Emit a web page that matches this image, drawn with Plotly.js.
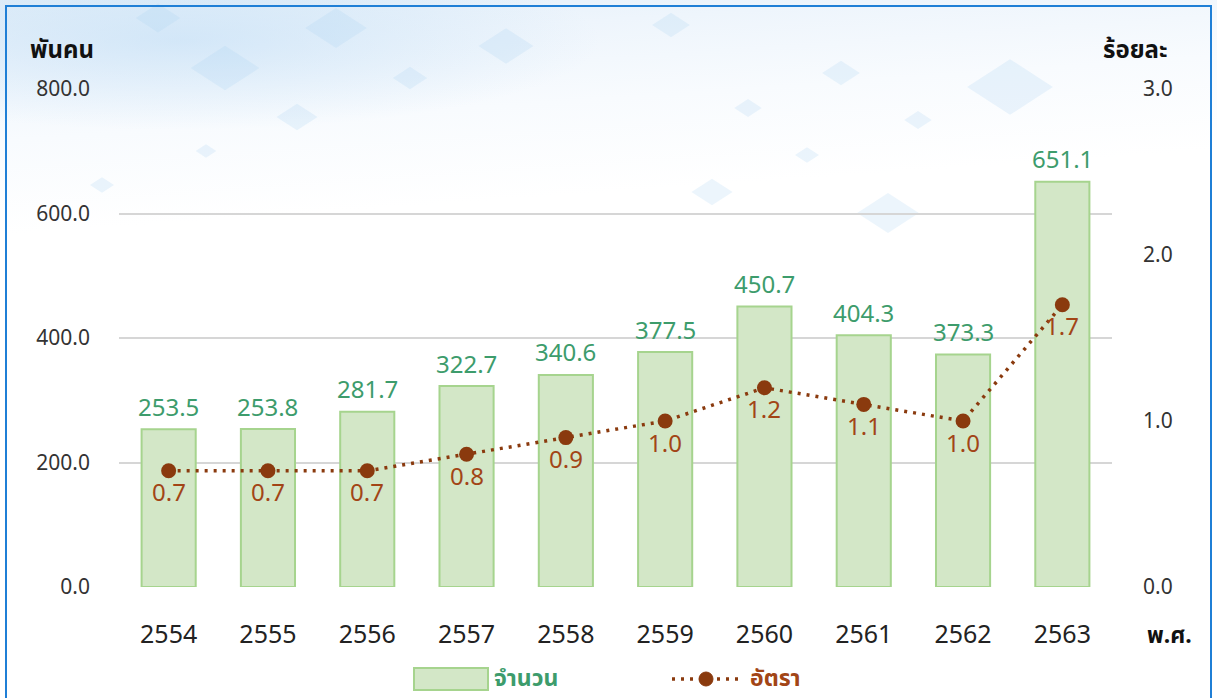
<!DOCTYPE html>
<html>
<head>
<meta charset="utf-8">
<script src="https://cdn.plot.ly/plotly-3.0.1.min.js"></script>
<style>
  html, body { margin:0; padding:0; width:1217px; height:698px; overflow:hidden; background:#ffffff; }
  #bg { position:absolute; left:0; top:0; width:1217px; height:698px; overflow:hidden;
        background:
          radial-gradient(ellipse 420px 90px at 180px 40px, rgba(190,220,245,0.55), rgba(255,255,255,0) 100%),
          linear-gradient(176deg, #e3eff9 0%, #eef5fc 8%, #f8fbfe 18%, #ffffff 30%); }
  .dia { position:absolute; background:rgba(168,208,240,0.22); transform:rotate(45deg) skew(-12deg,-12deg); }
  #frame { position:absolute; left:5px; top:5px; width:1207px; height:720px; border:2px solid #1f7fd6; box-sizing:border-box; }
  #chart { position:absolute; left:0; top:0; width:1217px; height:698px; }
</style>
</head>
<body>
<div id="bg">
  <div class="dia" style="left:145px;top:5px;width:26px;height:26px;"></div>
  <div class="dia" style="left:318px;top:10px;width:36px;height:36px;"></div>
  <div class="dia" style="left:490px;top:30px;width:32px;height:32px;"></div>
  <div class="dia" style="left:205px;top:48px;width:40px;height:40px;"></div>
  <div class="dia" style="left:400px;top:68px;width:20px;height:20px;"></div>
  <div class="dia" style="left:660px;top:14px;width:22px;height:22px;"></div>
  <div class="dia" style="left:830px;top:62px;width:22px;height:22px;"></div>
  <div class="dia" style="left:985px;top:62px;width:50px;height:50px;"></div>
  <div class="dia" style="left:740px;top:100px;width:16px;height:16px;"></div>
  <div class="dia" style="left:285px;top:105px;width:24px;height:24px;"></div>
  <div class="dia" style="left:700px;top:180px;width:24px;height:24px;"></div>
  <div class="dia" style="left:870px;top:195px;width:36px;height:36px;"></div>
  <div class="dia" style="left:910px;top:112px;width:16px;height:16px;"></div>
  <div class="dia" style="left:800px;top:148px;width:14px;height:14px;"></div>
  <div class="dia" style="left:95px;top:178px;width:14px;height:14px;"></div>
  <div class="dia" style="left:200px;top:145px;width:12px;height:12px;"></div>
</div>
<div id="frame"></div>
<div id="chart"></div>
<script>
const years = ['2554','2555','2556','2557','2558','2559','2560','2561','2562','2563'];
const counts = [253.5, 253.8, 281.7, 322.7, 340.6, 377.5, 450.7, 404.3, 373.3, 651.1];
const rates = [0.7, 0.7, 0.7, 0.8, 0.9, 1.0, 1.2, 1.1, 1.0, 1.7];
const leftTicks = [0, 200, 400, 600, 800];
const rightTicks = [0, 1, 2, 3];
const seriesNames = ['จำนวน', 'อัตรา'];

const FONT = "'Noto Sans', 'Noto Sans Thai', Tahoma, 'DejaVu Sans', sans-serif";
const GREEN_TXT = '#3d9c6c';
const BROWN = '#8a3a0e';
const BROWN_TXT = '#a24516';

const barTrace = {
  type: 'bar', x: years, y: counts, name: seriesNames[0],
  marker: { color: '#d3e7c7', line: { color: '#a6d48e', width: 2 } },
  showlegend: false, hoverinfo: 'x+y'
};
const lineTrace = {
  type: 'scatter', mode: 'lines+markers', x: years, y: rates, yaxis: 'y2', name: seriesNames[1],
  line: { color: BROWN, width: 3.5, dash: '3px,6px' },
  marker: { color: BROWN, size: 15 },
  cliponaxis: false, showlegend: false
};

// plot area geometry (for legend placement in paper coordinates)
const ML = 119, MR = 105, MT = 89, MB = 111, W = 1217, H = 698;
const PW = W - ML - MR, PH = H - MT - MB;
const px = x => (x - ML) / PW;
const py = y => (H - MB - y) / PH;

// data labels: category axis positions given by index (numeric-looking category names)
const barLabels = years.map((yr, i) => ({
  x: i, y: counts[i], xref: 'x', yref: 'y', yanchor: 'middle', yshift: 23, showarrow: false,
  text: counts[i].toFixed(1), font: { family: FONT, size: 24, color: GREEN_TXT }
}));
const rateLabels = years.map((yr, i) => ({
  x: i, y: rates[i], xref: 'x', yref: 'y2', yanchor: 'middle', yshift: -21, showarrow: false,
  text: rates[i].toFixed(1), font: { family: FONT, size: 24, color: BROWN_TXT }
}));

const layout = {
  width: W, height: H,
  margin: { l: ML, r: MR, t: MT, b: MB },
  paper_bgcolor: 'rgba(0,0,0,0)', plot_bgcolor: 'rgba(0,0,0,0)',
  font: { family: FONT, color: '#222' },
  bargap: 0.455,
  xaxis: {
    type: 'category', range: [-0.5, 9.5], showgrid: false, zeroline: false, showline: false, ticks: '',
    tickfont: { family: FONT, size: 25, color: '#222' }, ticklabelstandoff: 30
  },
  yaxis: {
    range: [0, 800], tickvals: leftTicks, tickformat: '.1f',
    showgrid: true, gridcolor: '#d6d6d6', gridwidth: 2, zeroline: false, showline: false,
    tickfont: { family: FONT, size: 21, color: '#333' }, ticklabelstandoff: 28
  },
  yaxis2: {
    overlaying: 'y', side: 'right', range: [0, 3], tickvals: rightTicks, tickformat: '.1f',
    showgrid: false, zeroline: false, showline: false,
    tickfont: { family: FONT, size: 21, color: '#333' }, ticklabelstandoff: 30
  },
  shapes: [
    { type: 'rect', xref: 'paper', yref: 'paper', x0: px(414), x1: px(488), y0: py(690), y1: py(668),
      fillcolor: '#d3e7c7', line: { color: '#a6d48e', width: 2 } },
    { type: 'line', xref: 'paper', yref: 'paper', x0: px(672), x1: px(740), y0: py(679), y1: py(679),
      line: { color: BROWN, width: 3.5, dash: '3px,6px' } },
    { type: 'circle', xref: 'paper', yref: 'paper', x0: px(699), x1: px(713), y0: py(686), y1: py(672),
      fillcolor: BROWN, line: { color: BROWN, width: 1 } }
  ],
  annotations: barLabels.concat(rateLabels, [
    { xref: 'paper', yref: 'paper', x: px(28), y: py(48), xanchor: 'left', yanchor: 'middle', showarrow: false,
      text: '<b>พันคน</b>', font: { family: FONT, size: 24, color: '#111' } },
    { xref: 'paper', yref: 'paper', x: px(1170), y: py(48), xanchor: 'right', yanchor: 'middle', showarrow: false,
      text: '<b>ร้อยละ</b>', font: { family: FONT, size: 24, color: '#111' } },
    { xref: 'paper', yref: 'paper', x: px(1145), y: py(634), xanchor: 'left', yanchor: 'middle', showarrow: false,
      text: '<b>พ.ศ.</b>', font: { family: FONT, size: 23, color: '#111' } },
    { xref: 'paper', yref: 'paper', x: px(492), y: py(677), xanchor: 'left', yanchor: 'middle', showarrow: false,
      text: '<b>' + seriesNames[0] + '</b>', font: { family: FONT, size: 23, color: GREEN_TXT } },
    { xref: 'paper', yref: 'paper', x: px(748), y: py(677), xanchor: 'left', yanchor: 'middle', showarrow: false,
      text: '<b>' + seriesNames[1] + '</b>', font: { family: FONT, size: 23, color: BROWN_TXT } }
  ])
};

Plotly.newPlot('chart', [barTrace, lineTrace], layout, { displayModeBar: false, staticPlot: true });
</script>
</body>
</html>
